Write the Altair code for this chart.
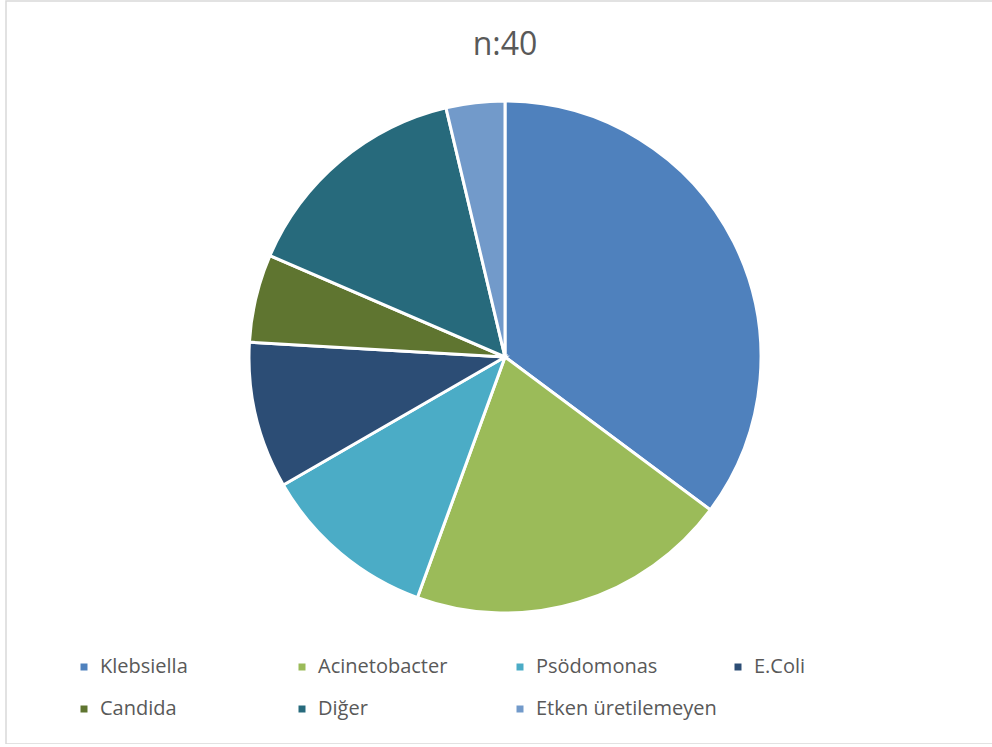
import altair as alt
import pandas as pd

title_text = "n:40"
categories = ["Klebsiella", "Acinetobacter", "Psödomonas", "E.Coli",
              "Candida", "Diğer", "Etken üretilemeyen"]
counts = [19, 11, 6, 5, 3, 8, 2]
colors = ["#4F81BD", "#9BBB59", "#4BACC6", "#2C4D75",
          "#5F7530", "#276A7C", "#729ACA"]

df = pd.DataFrame({"kategori": categories, "sayi": counts,
                   "sira": list(range(len(categories)))})

frame = alt.Chart(pd.DataFrame({"a": [0]})).mark_rect(
    fill=None, stroke="#D9D9D9", strokeWidth=1.5
).encode(x=alt.value(0), x2=alt.value(1000), y=alt.value(0), y2=alt.value(743))

pie = alt.Chart(df).mark_arc(
    radius=256, stroke="white", strokeWidth=3, x=499, y=356
).encode(
    theta=alt.Theta("sayi:Q", stack=True),
    order=alt.Order("sira:Q"),
    color=alt.Color(
        "kategori:N",
        scale=alt.Scale(domain=categories, range=colors),
        legend=alt.Legend(
            title=None, orient="none", legendX=68, legendY=656,
            direction="horizontal",
            columns=4, gridAlign="all", columnPadding=11, rowPadding=22,
            symbolType="square", symbolSize=49, symbolStrokeWidth=0,
            labelFont="Open Sans", labelFontSize=20, labelColor="#595959",
            labelOffset=6, labelLimit=400,
        ),
    ),
    tooltip=["kategori:N", "sayi:Q"],
)

title = alt.Chart(pd.DataFrame({"t": [title_text]})).mark_text(
    font="Open Sans", fontSize=32, color="#595959", x=499, y=44,
    align="center", baseline="middle"
).encode(text="t:N")

chart = alt.layer(frame, pie, title).properties(
    width=986, height=743,
    autosize=alt.AutoSizeParams(type="none"),
    padding={"left": 6, "top": 1, "right": 0, "bottom": 0},
).configure_view(stroke=None)

chart.save("out.html", embed_options={"renderer": "svg", "actions": False})
